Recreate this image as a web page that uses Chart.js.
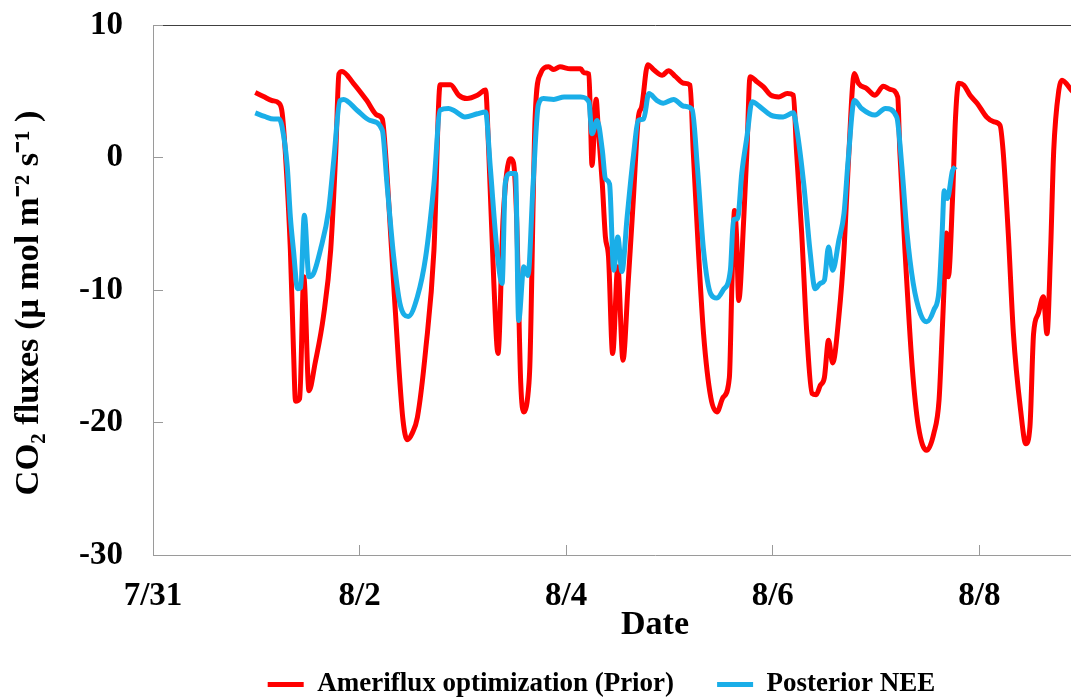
<!DOCTYPE html>
<html>
<head>
<meta charset="utf-8">
<script src="https://cdn.jsdelivr.net/npm/chart.js@4.4.1/dist/chart.umd.min.js"></script>
<style>
html, body { margin: 0; padding: 0; overflow: hidden; background: #fff; width: 1071px; height: 698px; }
#wrap { position: absolute; left: 0; top: 0; width: 1202px; height: 708px; }
</style>
</head>
<body>
<div id="wrap"><canvas id="c" width="1202" height="708"></canvas></div>
<script>
// x values: days since 7/31 00:00
const tickDays = [0, 2, 4, 6, 8];
const tickLabels = ['7/31', '8/2', '8/4', '8/6', '8/8'];
const yTicks = [-30, -20, -10, 0, 10];

const redDay = [0.99, 1.07, 1.15, 1.22, 1.25, 1.28, 1.33, 1.36, 1.38, 1.42, 1.46, 1.51, 1.57, 1.65, 1.72, 1.77, 1.80, 1.83, 1.94, 2.07, 2.17, 2.22, 2.25, 2.31, 2.38, 2.42, 2.46, 2.51, 2.56, 2.64, 2.72, 2.78, 2.88, 2.96, 3.04, 3.14, 3.22, 3.25, 3.30, 3.34, 3.39, 3.46, 3.49, 3.52, 3.56, 3.59, 3.64, 3.65, 3.70, 3.75, 3.83, 3.88, 3.94, 4.04, 4.14, 4.17, 4.22, 4.235, 4.25, 4.29, 4.31, 4.35, 4.38, 4.41, 4.45, 4.50, 4.55, 4.60, 4.65, 4.70, 4.73, 4.79, 4.85, 4.93, 4.99, 5.06, 5.14, 5.20, 5.23, 5.28, 5.33, 5.40, 5.46, 5.52, 5.58, 5.605, 5.63, 5.65, 5.67, 5.72, 5.75, 5.78, 5.85, 5.91, 5.98, 6.06, 6.14, 6.20, 6.23, 6.28, 6.33, 6.38, 6.42, 6.46, 6.50, 6.54, 6.58, 6.64, 6.69, 6.73, 6.79, 6.83, 6.91, 6.99, 7.07, 7.14, 7.21, 7.23, 7.28, 7.35, 7.41, 7.49, 7.56, 7.61, 7.64, 7.66, 7.68, 7.70, 7.74, 7.77, 7.80, 7.85, 7.91, 7.98, 8.07, 8.14, 8.20, 8.23, 8.28, 8.33, 8.40, 8.45, 8.49, 8.525, 8.57, 8.62, 8.655, 8.69, 8.72, 8.77, 8.80, 8.89, 8.95];
const redFlux = [4.9, 4.6, 4.3, 4.1, 3.4, 0.5, -7.0, -14.5, -18.4, -18.2, -9.0, -17.6, -15.5, -12.0, -7.0, 0.5, 6.3, 6.5, 5.6, 4.3, 3.2, 2.9, 0.5, -7.0, -15.8, -19.8, -21.3, -20.8, -19.6, -14.5, -7.0, 5.5, 5.5, 4.7, 4.45, 4.7, 5.1, 0.5, -9.5, -14.8, -4.5, -0.1, -0.4, -4.5, -17.0, -19.2, -17.0, -15.3, 3.1, 6.3, 6.84, 6.64, 6.84, 6.7, 6.7, 6.4, 6.3, 3.0, -0.6, 4.4, 2.3, -2.0, -6.0, -7.5, -14.8, -8.25, -15.3, -9.5, -3.2, 3.1, 3.8, 7.0, 6.6, 6.2, 6.55, 6.1, 5.6, 5.46, 0.5, -7.0, -13.3, -18.1, -19.2, -18.1, -16.6, -9.5, -4.0, -6.0, -10.8, -4.5, 0.5, 6.1, 5.7, 5.33, 4.7, 4.57, 4.83, 4.7, 0.5, -5.7, -13.3, -17.8, -17.9, -17.2, -16.6, -13.8, -15.5, -12.0, -7.0, -0.7, 6.34, 5.6, 5.2, 4.7, 5.38, 5.13, 4.57, 0.5, -7.0, -15.8, -20.3, -22.1, -20.8, -18.3, -13.3, -9.5, -5.7, -9.0, -3.2, 3.1, 5.6, 5.46, 4.7, 4.08, 3.06, 2.7, 2.44, 0.5, -5.7, -13.3, -19.1, -21.6, -20.3, -13.3, -11.8, -10.5, -13.3, -7.0, 0.5, 5.1, 5.83, 5.1, 4.6];

const blueDay = [0.99, 1.08, 1.17, 1.22, 1.25, 1.30, 1.33, 1.36, 1.40, 1.43, 1.465, 1.51, 1.555, 1.62, 1.70, 1.75, 1.81, 1.845, 1.975, 2.10, 2.22, 2.265, 2.33, 2.39, 2.47, 2.56, 2.64, 2.72, 2.78, 2.86, 2.91, 3.02, 3.14, 3.22, 3.265, 3.33, 3.38, 3.41, 3.46, 3.51, 3.54, 3.59, 3.63, 3.68, 3.73, 3.78, 3.88, 3.98, 4.14, 4.22, 4.25, 4.30, 4.35, 4.38, 4.42, 4.46, 4.50, 4.54, 4.59, 4.65, 4.70, 4.75, 4.80, 4.88, 4.94, 5.04, 5.14, 5.22, 5.27, 5.33, 5.40, 5.46, 5.52, 5.59, 5.62, 5.66, 5.70, 5.75, 5.80, 5.88, 5.98, 6.10, 6.20, 6.23, 6.30, 6.36, 6.41, 6.46, 6.50, 6.54, 6.58, 6.64, 6.69, 6.73, 6.79, 6.86, 6.99, 7.09, 7.20, 7.25, 7.30, 7.36, 7.43, 7.49, 7.56, 7.61, 7.64, 7.66, 7.69, 7.74, 7.77];
const blueFlux = [3.37, 3.1, 2.9, 2.9, 2.3, -0.7, -4.5, -7.0, -9.9, -9.8, -4.35, -9.0, -8.75, -7.0, -4.0, -0.2, 4.3, 4.38, 3.57, 2.8, 2.06, -1.95, -7.5, -11.0, -12.0, -10.5, -7.5, -2.0, 3.57, 3.7, 3.57, 3.06, 3.3, 3.44, -0.7, -7.0, -9.5, -1.96, -1.2, -1.2, -12.3, -8.25, -8.9, -2.0, 3.95, 4.45, 4.38, 4.57, 4.57, 4.2, 1.8, 2.8, 0.55, -1.6, -2.0, -8.5, -6.0, -8.6, -4.5, 0.05, 2.8, 2.9, 4.83, 4.3, 4.1, 4.38, 3.87, 3.62, -0.7, -7.0, -10.3, -10.6, -10.0, -8.5, -4.7, -4.6, -1.2, 1.55, 4.2, 3.8, 3.2, 3.06, 3.37, 2.3, -2.0, -7.0, -9.9, -9.5, -9.26, -6.75, -8.5, -6.25, -4.2, -0.2, 4.3, 3.7, 3.2, 3.7, 3.06, -0.7, -5.7, -9.5, -11.8, -12.4, -11.5, -10.0, -5.7, -2.5, -3.1, -1.0, -0.7];

const seriesNames = ['Ameriflux optimization (Prior)', 'Posterior NEE'];
const seriesColors = ['#FF0000', '#1AAEE8'];
const xTitle = 'Date';
const yTitle = 'CO₂ fluxes (μ mol m⁻² s⁻¹ )';

const FONT = '"Liberation Serif", "Times New Roman", serif';
Chart.defaults.font.family = FONT;
Chart.defaults.font.weight = 'bold';
Chart.defaults.color = '#000';

const toPts = (xs, ys) => xs.map((x, i) => ({ x: x, y: ys[i] }));

new Chart(document.getElementById('c'), {
  type: 'line',
  data: {
    datasets: [
      { label: seriesNames[0], data: toPts(redDay, redFlux), borderColor: seriesColors[0], backgroundColor: seriesColors[0],
        borderWidth: 5, pointRadius: 0, cubicInterpolationMode: 'monotone', order: 2 },
      { label: seriesNames[1], data: toPts(blueDay, blueFlux), borderColor: seriesColors[1], backgroundColor: seriesColors[1],
        borderWidth: 5, pointRadius: 0, cubicInterpolationMode: 'monotone', order: 1 }
    ]
  },
  options: {
    responsive: false,
    animation: false,
    devicePixelRatio: 1,
    layout: { padding: { top: 25, right: 45, bottom: 0, left: 46 } },
    plugins: {
      tooltip: { enabled: false },
      legend: {
        position: 'bottom',
        labels: {
          boxWidth: 36, boxHeight: 5, padding: 43, color: '#000',
          font: { size: 27, weight: 'bold' },
          sort: (a, b) => a.datasetIndex - b.datasetIndex,
          generateLabels: (chart) => Chart.defaults.plugins.legend.labels.generateLabels(chart)
            .map(l => Object.assign({}, l, { lineWidth: 0, fillStyle: l.strokeStyle }))
        }
      }
    },
    scales: {
      x: {
        type: 'linear', min: 0, max: 9.72,
        afterBuildTicks: (s) => { s.ticks = tickDays.map(v => ({ value: v })); },
        afterFit: (s) => { s.height = 73; },
        ticks: {
          callback: (v) => { const i = tickDays.indexOf(v); return i >= 0 ? tickLabels[i] : ''; },
          font: { size: 33, weight: 'bold', lineHeight: 1 }, padding: 34.5, maxRotation: 0, autoSkip: false, color: '#000'
        },
        grid: { drawOnChartArea: false, tickLength: -10, tickColor: '#9a9a9a', tickWidth: 1 },
        border: { color: '#9a9a9a', width: 1 },
        title: { display: true, text: xTitle, color: '#000', font: { size: 34, weight: 'bold', lineHeight: 1 }, padding: { top: 0, bottom: -14 } }
      },
      y: {
        min: -30, max: 10,
        afterBuildTicks: (s) => { s.ticks = yTicks.map(v => ({ value: v })); },
        afterFit: (s) => { s.width = 107; s.paddingTop = 0; s.paddingBottom = 0; },
        ticks: { font: { size: 33, weight: 'bold', lineHeight: 1 }, padding: 40, color: '#000' },
        grid: {
          color: (ctx) => (ctx.tick && ctx.tick.value === 10) ? '#404040' : 'rgba(0,0,0,0)',
          tickColor: '#9a9a9a', tickLength: -10, lineWidth: 1
        },
        border: { color: '#9a9a9a', width: 1 },
        title: { display: true, text: yTitle + '   ', color: '#000', font: { size: 34.5, weight: 'bold', lineHeight: 1 }, padding: { top: -34.5, bottom: 0 } }
      }
    }
  }
});
</script>
</body>
</html>
